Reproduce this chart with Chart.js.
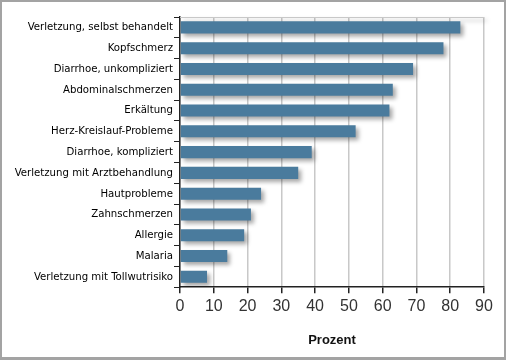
<!DOCTYPE html>
<html><head><meta charset="utf-8">
<script src="https://cdn.jsdelivr.net/npm/chart.js@4"></script>
<style>
html,body{margin:0;padding:0;background:#fff;}
#wrap{position:absolute;left:0;top:0;width:506px;height:360px;box-sizing:border-box;border:2px solid #a3a3a3;border-bottom-width:3px;background:#fff;}
canvas{display:block;}
</style></head><body>
<div id="wrap"><canvas id="c" width="502" height="355"></canvas></div>
<script>
const categories = ["Verletzung, selbst behandelt","Kopfschmerz","Diarrhoe, unkompliziert","Abdominalschmerzen","Erkältung","Herz-Kreislauf-Probleme","Diarrhoe, kompliziert","Verletzung mit Arztbehandlung","Hautprobleme","Zahnschmerzen","Allergie","Malaria","Verletzung mit Tollwutrisiko"];
const values = [83,78,69,63,62,52,39,35,24,21,19,14,8];
const xTicks = [0,10,20,30,40,50,60,70,80,90];
const axisTitle = "Prozent";

const shadowPlugin = {
  id:'shadow',
  beforeDatasetsDraw(chart){const c=chart.ctx;c.save();c.shadowColor='rgba(0,0,0,0.35)';c.shadowOffsetX=3;c.shadowOffsetY=3;c.shadowBlur=4;},
  afterDatasetsDraw(chart){chart.ctx.restore();}
};
const topLine = {
  id:'topLine',
  beforeDatasetsDraw(chart){const a=chart.chartArea,c=chart.ctx;c.save();c.strokeStyle='#c8c8c8';c.lineWidth=1;c.beginPath();c.moveTo(a.left,a.top+0.5);c.lineTo(a.right,a.top+0.5);c.stroke();c.restore();}
};
const narrow = "'DejaVu Sans Condensed','Liberation Sans',sans-serif";
new Chart(document.getElementById('c'),{
  type:'bar',
  data:{labels:categories,datasets:[{data:values,backgroundColor:'#4a7b9d',borderWidth:0,barPercentage:0.58,categoryPercentage:1}]},
  options:{
    responsive:false,animation:false,indexAxis:'y',
    layout:{padding:{top:15,right:20,left:0,bottom:9}},
    plugins:{legend:{display:false},tooltip:{enabled:false}},
    scales:{
      x:{min:0,max:90,
        afterBuildTicks(s){s.ticks=xTicks.map(v=>({value:v}));},
        grid:{color:'#c8c8c8',lineWidth:1.5,tickColor:'#222',tickLength:6,drawTicks:true},
        border:{color:'#222',width:1.5},
        ticks:{color:'#333',font:{family:"'Liberation Sans',Arial,sans-serif",size:16},padding:4,maxRotation:0},
        title:{display:true,text:axisTitle,color:'#111',font:{family:"'Liberation Sans',Arial,sans-serif",size:13,weight:'bold'},padding:{top:12,bottom:0}}
      },
      y:{
        afterFit(s){s.width=178;},
        grid:{drawOnChartArea:false,offset:true,tickColor:'#222',tickLength:6},
        border:{color:'#222',width:1.5},
        ticks:{color:'#000',font:{family:narrow,size:11.3},padding:1,autoSkip:false}
      }
    }
  },
  plugins:[shadowPlugin,topLine]
});
</script></body></html>
